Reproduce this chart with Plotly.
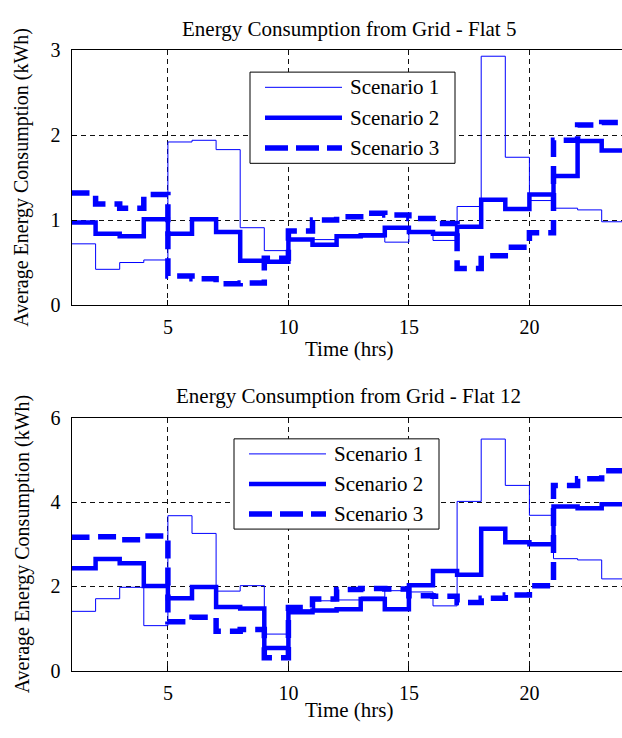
import plotly.graph_objects as go

# Hourly average grid energy per scenario (value held from hour h to h+1)
hours = list(range(1, 25))

flat5_s1 = [0.72, 0.42, 0.50, 0.53, 1.92, 1.94, 1.83, 0.91, 0.64, 0.77, 0.77, 0.80,
            0.80, 0.74, 0.85, 0.76, 1.16, 2.93, 1.74, 1.23, 1.14, 1.12, 0.98, 0.98]
flat5_s2 = [0.97, 0.84, 0.81, 1.01, 0.84, 1.01, 0.86, 0.52, 0.51, 0.77, 0.71, 0.81,
            0.82, 0.91, 0.86, 0.84, 0.92, 1.24, 1.13, 1.30, 1.52, 1.93, 1.82, 1.82]
flat5_s3 = [1.32, 1.19, 1.14, 1.30, 0.34, 0.31, 0.25, 0.26, 0.55, 0.87, 1.00, 1.04,
            1.08, 1.06, 1.02, 0.96, 0.43, 0.58, 0.68, 0.85, 1.94, 2.12, 2.15, 2.15]

flat12_s1 = [1.41, 1.71, 1.98, 1.07, 3.68, 3.26, 1.89, 2.02, 0.87, 1.45, 1.66, 1.68,
             1.75, 1.90, 1.87, 1.54, 4.02, 5.50, 4.40, 3.69, 2.66, 2.63, 2.18, 2.18]
flat12_s2 = [2.43, 2.65, 2.55, 2.01, 1.72, 1.99, 1.51, 1.48, 0.54, 1.39, 1.43, 1.46,
             1.70, 1.46, 2.03, 2.37, 2.28, 3.37, 3.05, 3.00, 3.90, 3.86, 3.95, 3.95]
flat12_s3 = [3.17, 3.18, 3.11, 3.20, 1.16, 1.27, 0.94, 0.98, 0.31, 1.50, 1.70, 1.93,
             1.95, 1.94, 1.78, 1.77, 1.62, 1.72, 1.80, 2.02, 4.40, 4.56, 4.75, 4.75]

scenario_names = ["Scenario 1", "Scenario 2", "Scenario 3"]
x_ticks = [5, 10, 15, 20]
y_ticks_flat5 = [0, 1, 2, 3]
y_ticks_flat12 = [0, 2, 4, 6]

W, H = 622, 738
FONT = "Liberation Serif"
BLUE = "#0000FF"

styles = [
    dict(color=BLUE, width=1, dash="solid"),
    dict(color=BLUE, width=4.5, dash="solid"),
    dict(color=BLUE, width=5.5, dash="18px,9px"),
]


def px_x(p):
    return p / W


def px_y(p):
    return 1 - p / H


fig = go.Figure()

panels = [
    dict(series=[flat5_s1, flat5_s2, flat5_s3], xa="x", ya="y", yticks=y_ticks_flat5,
         top=40.5, bottom=303, title="Energy Consumption from Grid - Flat 5",
         title_y=19, xlabel_y=348, legend=(250, 455, 63, 157)),
    dict(series=[flat12_s1, flat12_s2, flat12_s3], xa="x2", ya="y2", yticks=y_ticks_flat12,
         top=419.5, bottom=680, title="Energy Consumption from Grid - Flat 12",
         title_y=397, xlabel_y=720, legend=(234, 439, 441, 534)),
]

left_px = 71.5
px_per_hour = 24.1
x_end = 1 + (W - left_px) / px_per_hour

shapes = []
annotations = []

for i, pn in enumerate(panels):
    for vals, name, st in zip(pn["series"], scenario_names, styles):
        fig.add_trace(go.Scatter(
            x=hours, y=vals, mode="lines", name=name, line_shape="hv",
            line=st, xaxis=pn["xa"], yaxis=pn["ya"], showlegend=False,
        ))

    axis_common = dict(
        showline=True, linecolor="black", linewidth=1,
        showgrid=True, gridcolor="#111111", gridwidth=1, griddash="5px,4px",
        ticks="inside", ticklen=5, tickcolor="black",
        tickfont=dict(family=FONT, size=20, color="black"),
        zeroline=False,
    )
    xkey = "xaxis" if i == 0 else "xaxis2"
    ykey = "yaxis" if i == 0 else "yaxis2"
    fig.update_layout({
        xkey: dict(axis_common, domain=[px_x(left_px), 1], range=[1, x_end],
                   tickvals=x_ticks, anchor=pn["ya"], mirror=True,
                   ticklabelstandoff=4),
        ykey: dict(axis_common, domain=[px_y(pn["bottom"]), px_y(pn["top"])],
                   range=[pn["yticks"][0], pn["yticks"][-1]], tickvals=pn["yticks"],
                   anchor=pn["xa"], mirror=False, ticklabelstandoff=6),
    })

    cx = (left_px + left_px + 23 * px_per_hour) / 2
    mid_y = (pn["top"] + pn["bottom"]) / 2
    annotations += [
        dict(text=pn["title"], x=px_x(cx), y=px_y(pn["title_y"]), xref="paper", yref="paper",
             showarrow=False, xanchor="center", yanchor="middle",
             font=dict(family=FONT, size=21, color="black")),
        dict(text="Time (hrs)", x=px_x(cx), y=px_y(pn["xlabel_y"]), xref="paper", yref="paper",
             showarrow=False, xanchor="center", yanchor="middle",
             font=dict(family=FONT, size=21, color="black")),
        dict(text="Average Energy Consumption (kWh)", x=px_x(22), y=px_y(mid_y),
             xref="paper", yref="paper", showarrow=False, textangle=-90,
             xanchor="center", yanchor="middle",
             font=dict(family=FONT, size=20, color="black")),
    ]

    # legend box with line samples and labels
    lx0, lx1, ly0, ly1 = pn["legend"]
    shapes.append(dict(type="rect", xref="paper", yref="paper",
                       x0=px_x(lx0), x1=px_x(lx1), y0=px_y(ly1), y1=px_y(ly0),
                       line=dict(color="black", width=1), fillcolor="white", layer="above"))
    row_gap = (ly1 - ly0) / 3
    for k, (name, st) in enumerate(zip(scenario_names, styles)):
        ry = ly0 + row_gap * (k + 0.5)
        shapes.append(dict(type="line", xref="paper", yref="paper",
                           x0=px_x(lx0 + 15), x1=px_x(lx0 + 92), y0=px_y(ry), y1=px_y(ry),
                           line=dict(color=st["color"], width=st["width"],
                                     dash="23px,8px" if st["dash"] != "solid" else "solid"),
                           layer="above"))
        annotations.append(dict(text=name, x=px_x(lx0 + 98), y=px_y(ry), xref="paper", yref="paper",
                                showarrow=False, xanchor="left", yanchor="middle",
                                font=dict(family=FONT, size=21, color="black")))

fig.update_layout(
    width=W, height=H,
    margin=dict(l=0, r=0, t=0, b=0),
    paper_bgcolor="white", plot_bgcolor="white",
    shapes=shapes, annotations=annotations,
    showlegend=False,
)

fig.write_html("out.html")
